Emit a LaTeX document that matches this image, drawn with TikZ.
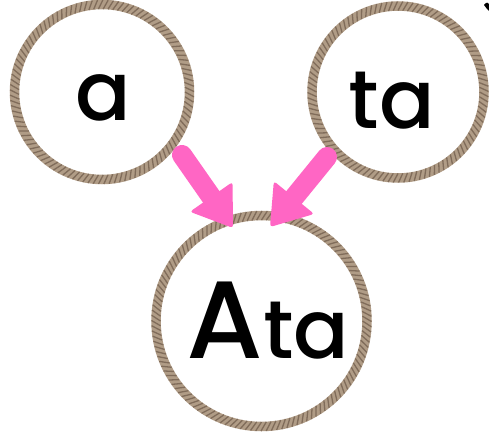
\documentclass[tikz,border=0pt]{standalone}
\usepackage{fontspec}
\setmainfont{Poppins}
\newfontfamily\wordfont{Poppins}[UprightFont=* Medium]
\usetikzlibrary{calc}
\definecolor{ropebase}{HTML}{B09C86}
\definecolor{ropedark}{HTML}{806C5A}
\definecolor{arrowpink}{HTML}{FF66C4}
\tikzset{
  ropering/.style={draw=ropebase, line width=9.5pt},
  ropestripe/.style={draw=ropedark, line width=1.3pt},
  ringnode/.style={circle, inner sep=0pt, minimum size=2pt},
  word/.style={anchor=base, inner sep=0pt, font=\fontsize{82}{82}\wordfont},
  shaft/.style={draw=arrowpink, line width=20pt, line cap=round},
  head/.style={fill=arrowpink, rounded corners=3pt},
}
\newcommand{\myrope}[2]{%
  \draw[ropering] (#1) circle[radius=#2];
  \pgfmathtruncatemacro\nn{2*3.14159*#2/5}
  \foreach \i in {1,...,\nn}{%
    \pgfmathsetmacro\angA{360/\nn*\i}
    \pgfmathsetmacro\angB{\angA+3}
    \draw[ropestripe] ($(#1)+(\angA:#2-4.5)$) -- ($(#1)+(\angB:#2+4.5)$);
  }%
}
\begin{document}
\begin{tikzpicture}[x=1pt,y=-1pt]
\useasboundingbox (0,0) rectangle (489,442);
\fill[white] (0,0) rectangle (489,442);
% rings
\node[ringnode] (ca) at (102,92) {};
\node[ringnode] (cta) at (398,92) {};
\node[ringnode] (cata) at (261.5,321) {};
\myrope{ca}{87.5}
\myrope{cta}{86}
\myrope{cata}{105.5}
% words
\node[word] (ta1) at (103,120) {a};
\node[word] (tta) at (392,128) {ta};
\node[word] (tata) at (268,358) {{\fontsize{110}{110}\selectfont A}ta};
% arrows
\coordinate (s1) at (182,155);
\coordinate (t1) at (233,228);
\coordinate (s2) at (327,157);
\coordinate (t2) at (270,227);
\coordinate (b1) at ($(t1)!38pt!(s1)$);
\coordinate (b2) at ($(t2)!38pt!(s2)$);
\draw[shaft] (s1) -- ($(t1)!30pt!(s1)$);
\draw[shaft] (s2) -- ($(t2)!30pt!(s2)$);
\fill[head] (t1) -- ($(b1)!26pt!90:(t1)$) -- ($(b1)!26pt!-90:(t1)$) -- cycle;
\fill[head] (t2) -- ($(b2)!26pt!90:(t2)$) -- ($(b2)!26pt!-90:(t2)$) -- cycle;
% small mark
\fill[black] (484,5) .. controls (486,2) and (489,2) .. (489,4) -- (489,11) .. controls (487,9) .. (484,5) -- cycle;
\end{tikzpicture}
\end{document}
